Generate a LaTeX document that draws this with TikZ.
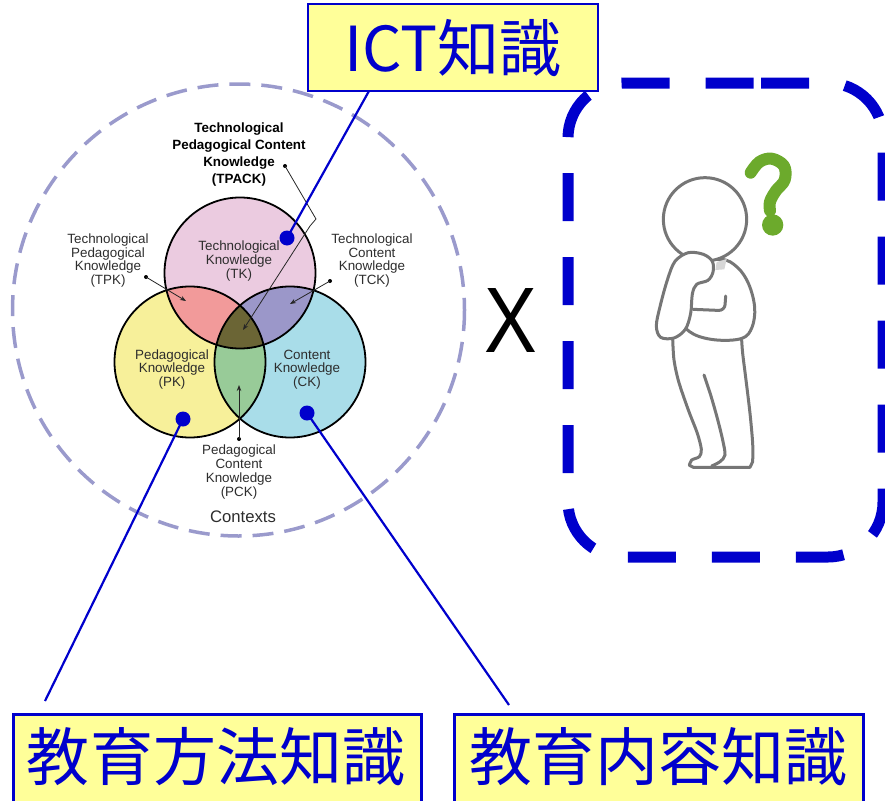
\documentclass[tikz,border=0pt]{standalone}
\usepackage{fontspec}
\setmainfont{Liberation Sans}
\newfontfamily\jpfont{Noto Sans CJK JP}
\usetikzlibrary{arrows.meta}

\definecolor{linkblue}{RGB}{0,0,204}
\definecolor{boxyellow}{RGB}{255,255,153}
\definecolor{ctxring}{RGB}{154,154,204}
\definecolor{tkfill}{RGB}{235,203,224}
\definecolor{pkfill}{RGB}{247,240,154}
\definecolor{ckfill}{RGB}{169,221,233}
\definecolor{tpkfill}{RGB}{242,154,154}
\definecolor{tckfill}{RGB}{155,151,201}
\definecolor{pckfill}{RGB}{152,203,152}
\definecolor{tpackfill}{RGB}{107,101,53}
\definecolor{labelgray}{RGB}{45,45,45}
\definecolor{figgray}{RGB}{118,118,118}
\definecolor{neckgray}{RGB}{215,215,215}
\definecolor{qgreen}{RGB}{108,170,44}

\begin{document}
\begin{tikzpicture}[x=1pt,y=-1pt,
  lbl/.style={align=center, inner sep=0pt, text=labelgray, font=\fontsize{13.4}{13.7}\selectfont},
  lblbold/.style={align=center, inner sep=0pt, text=black, font=\bfseries\fontsize{13.4}{16.7}\selectfont},
  leader/.style={draw=black!85, line width=0.8pt},
  leadtip/.style={-{Stealth[length=6pt,width=4.5pt]}},
  pin/.style={circle, fill=black, inner sep=0pt, minimum size=4pt},
  bluepin/.style={circle, fill=linkblue, inner sep=0pt, minimum size=15pt},
  bluelink/.style={draw=linkblue, line width=2.2pt},
  kbox/.style={draw=linkblue, fill=boxyellow, line width=2.5pt, inner sep=0pt},
  ktext/.style={inner sep=0pt, text=linkblue, font=\jpfont\fontsize{63}{63}\selectfont},
  venn/.style={draw=black, line width=1.8pt},
  figline/.style={draw=figgray, line width=3pt, line cap=round, line join=round},
]
\useasboundingbox (0,0) rectangle (885,800);

% ---- contexts ring ----
\draw[ctxring, line width=3.5pt, dash pattern=on 21pt off 11pt] (238.5,310) circle[radius=226];

% ---- Venn circles ----
\coordinate (tkc) at (240,273);
\coordinate (pkc) at (190,362);
\coordinate (ckc) at (290,362);
\def\vr{75.5}

\fill[tkfill] (tkc) circle[radius=\vr];
\fill[pkfill] (pkc) circle[radius=\vr];
\fill[ckfill] (ckc) circle[radius=\vr];
\begin{scope}
  \clip (tkc) circle[radius=\vr];
  \fill[tpkfill] (pkc) circle[radius=\vr];
  \fill[tckfill] (ckc) circle[radius=\vr];
\end{scope}
\begin{scope}
  \clip (pkc) circle[radius=\vr];
  \fill[pckfill] (ckc) circle[radius=\vr];
  \clip (tkc) circle[radius=\vr];
  \fill[tpackfill] (ckc) circle[radius=\vr];
\end{scope}
\draw[venn] (tkc) circle[radius=\vr];
\draw[venn] (pkc) circle[radius=\vr];
\draw[venn] (ckc) circle[radius=\vr];

% ---- labels ----
\node[lblbold] (tpack) at (239,154.5) {Technological\\Pedagogical Content\\Knowledge\\(TPACK)};
\node[lbl] (tpk) at (108,260.5) {Technological\\Pedagogical\\Knowledge\\(TPK)};
\node[lbl] (tck) at (372,260.5) {Technological\\Content\\Knowledge\\(TCK)};
\node[lbl] (tk) at (239,261) {Technological\\Knowledge\\(TK)};
\node[lbl] (pk) at (172,369.5) {Pedagogical\\Knowledge\\(PK)};
\node[lbl] (ck) at (307,369.5) {Content\\Knowledge\\(CK)};
\node[lbl] (pck) at (239,472) {Pedagogical\\Content\\Knowledge\\(PCK)};
\node[inner sep=0pt, text=labelgray, font=\fontsize{16.7}{18}\selectfont] (ctx) at (243,517) {Contexts};

% ---- leaders ----
\node[pin] (tpkpin) at (146,277) {};
\coordinate (tpkend) at (186,301);
\draw[leader, leadtip] (tpkpin.center) -- (tpkend);

\node[pin] (tckpin) at (330,281) {};
\coordinate (tckend) at (290,304);
\draw[leader, leadtip] (tckpin.center) -- (tckend);

\node[pin] (pckpin) at (239,439) {};
\coordinate (pckend) at (239,385);
\draw[leader, leadtip] (pckpin.center) -- (pckend);

\node[pin] (tpackpin) at (285,166) {};
\coordinate (tpackbend) at (316,219);
\coordinate (tpackkink) at (310,226);
\coordinate (tpackend) at (243,330);
\draw[leader, leadtip] (tpackpin.center) -- (tpackbend) -- (tpackkink) -- (tpackend);

% ---- label boxes ----
\node[kbox, minimum width=290pt, minimum height=87pt] (ictbox) at (453,47.5) {};
\node[ktext, font=\jpfont\fontsize{62}{62}\selectfont] (ictlabel) at (453,48) {ICT知識};

\node[kbox, minimum width=408pt, minimum height=120pt, anchor=north west] (pmbox) at (12,713) {};
\node[ktext] (pmlabel) at (216,757) {教育方法知識};

\node[kbox, minimum width=409pt, minimum height=120pt, anchor=north west] (ccbox) at (453,713) {};
\node[ktext] (cclabel) at (658,757) {教育内容知識};

% ---- blue links ----
\node[bluepin] (ictpin) at (287,238) {};
\coordinate (ictfoot) at (369,91);
\draw[bluelink] (ictpin.center) -- (ictfoot);

\node[bluepin] (pmpin) at (183,419) {};
\coordinate (pmfoot) at (45,701);
\draw[bluelink] (pmpin.center) -- (pmfoot);

\node[bluepin] (ccpin) at (307,413) {};
\coordinate (ccfoot) at (509,705);
\draw[bluelink] (ccpin.center) -- (ccfoot);

% ---- multiplication sign ----
\node[inner sep=0pt, font=\fontsize{93}{93}\selectfont] (times) at (511,321) {\scalebox{0.85}[1]{X}};

% ---- dashed frame ----
\draw[linkblue, line width=11pt, dash pattern=on 48pt off 36pt, rounded corners=55pt]
  (706,83) -- (883,83) -- (883,557) -- (568,557) -- (568,83) -- cycle;

% ---- thinking person ----
\begin{scope}[shift={(560,60)}, scale=1/3]
  % legs
  \filldraw[figline, fill=white] plot[smooth, tension=0.5] coordinates {
    (338,835) (342,900) (356,965) (385,1050) (412,1120) (424,1168)
    (418,1190) (395,1200) (388,1216)} -- (400,1222) -- (570,1222)
    -- plot[smooth, tension=0.5] coordinates {(578,1205) (578,1150) (570,1060) (558,960) (548,880) (545,840)};
  \draw[figline] plot[smooth, tension=0.5] coordinates {
    (432,945) (452,1005) (472,1075) (488,1140) (495,1185) (480,1205) (455,1218)};
  % torso
  \filldraw[figline, fill=white] plot[smooth cycle, tension=0.6] coordinates {
    (480,598) (532,622) (566,672) (584,742) (576,802) (546,835) (470,840)
    (400,822) (360,780) (340,700) (372,620)};
  \fill[neckgray] (470,606) -- (500,597) -- (493,628) -- (466,630) -- cycle;
  % head
  \filldraw[figline, fill=white] (435,478) circle[radius=125];
  % folded arm across the body
  \draw[figline, rounded corners=6pt] (400,748) -- (494,752) -- (497,708);
  % arm raised to the chin
  \filldraw[figline, fill=white] plot[smooth cycle, tension=0.55] coordinates {
    (385,578) (430,583) (457,604) (459,636) (444,661) (410,673) (397,702)
    (392,760) (376,808) (342,834) (302,832) (289,798) (300,740) (322,660) (345,604)};
  % question mark
  \draw[qgreen, line width=12pt, line cap=round, line join=round]
    plot[smooth, tension=0.6] coordinates {(572,338) (598,306) (635,296) (672,318) (674,360) (648,392) (630,425) (630,452)};
  \fill[qgreen] (638,495) circle[radius=32];
\end{scope}

\end{tikzpicture}
\end{document}
